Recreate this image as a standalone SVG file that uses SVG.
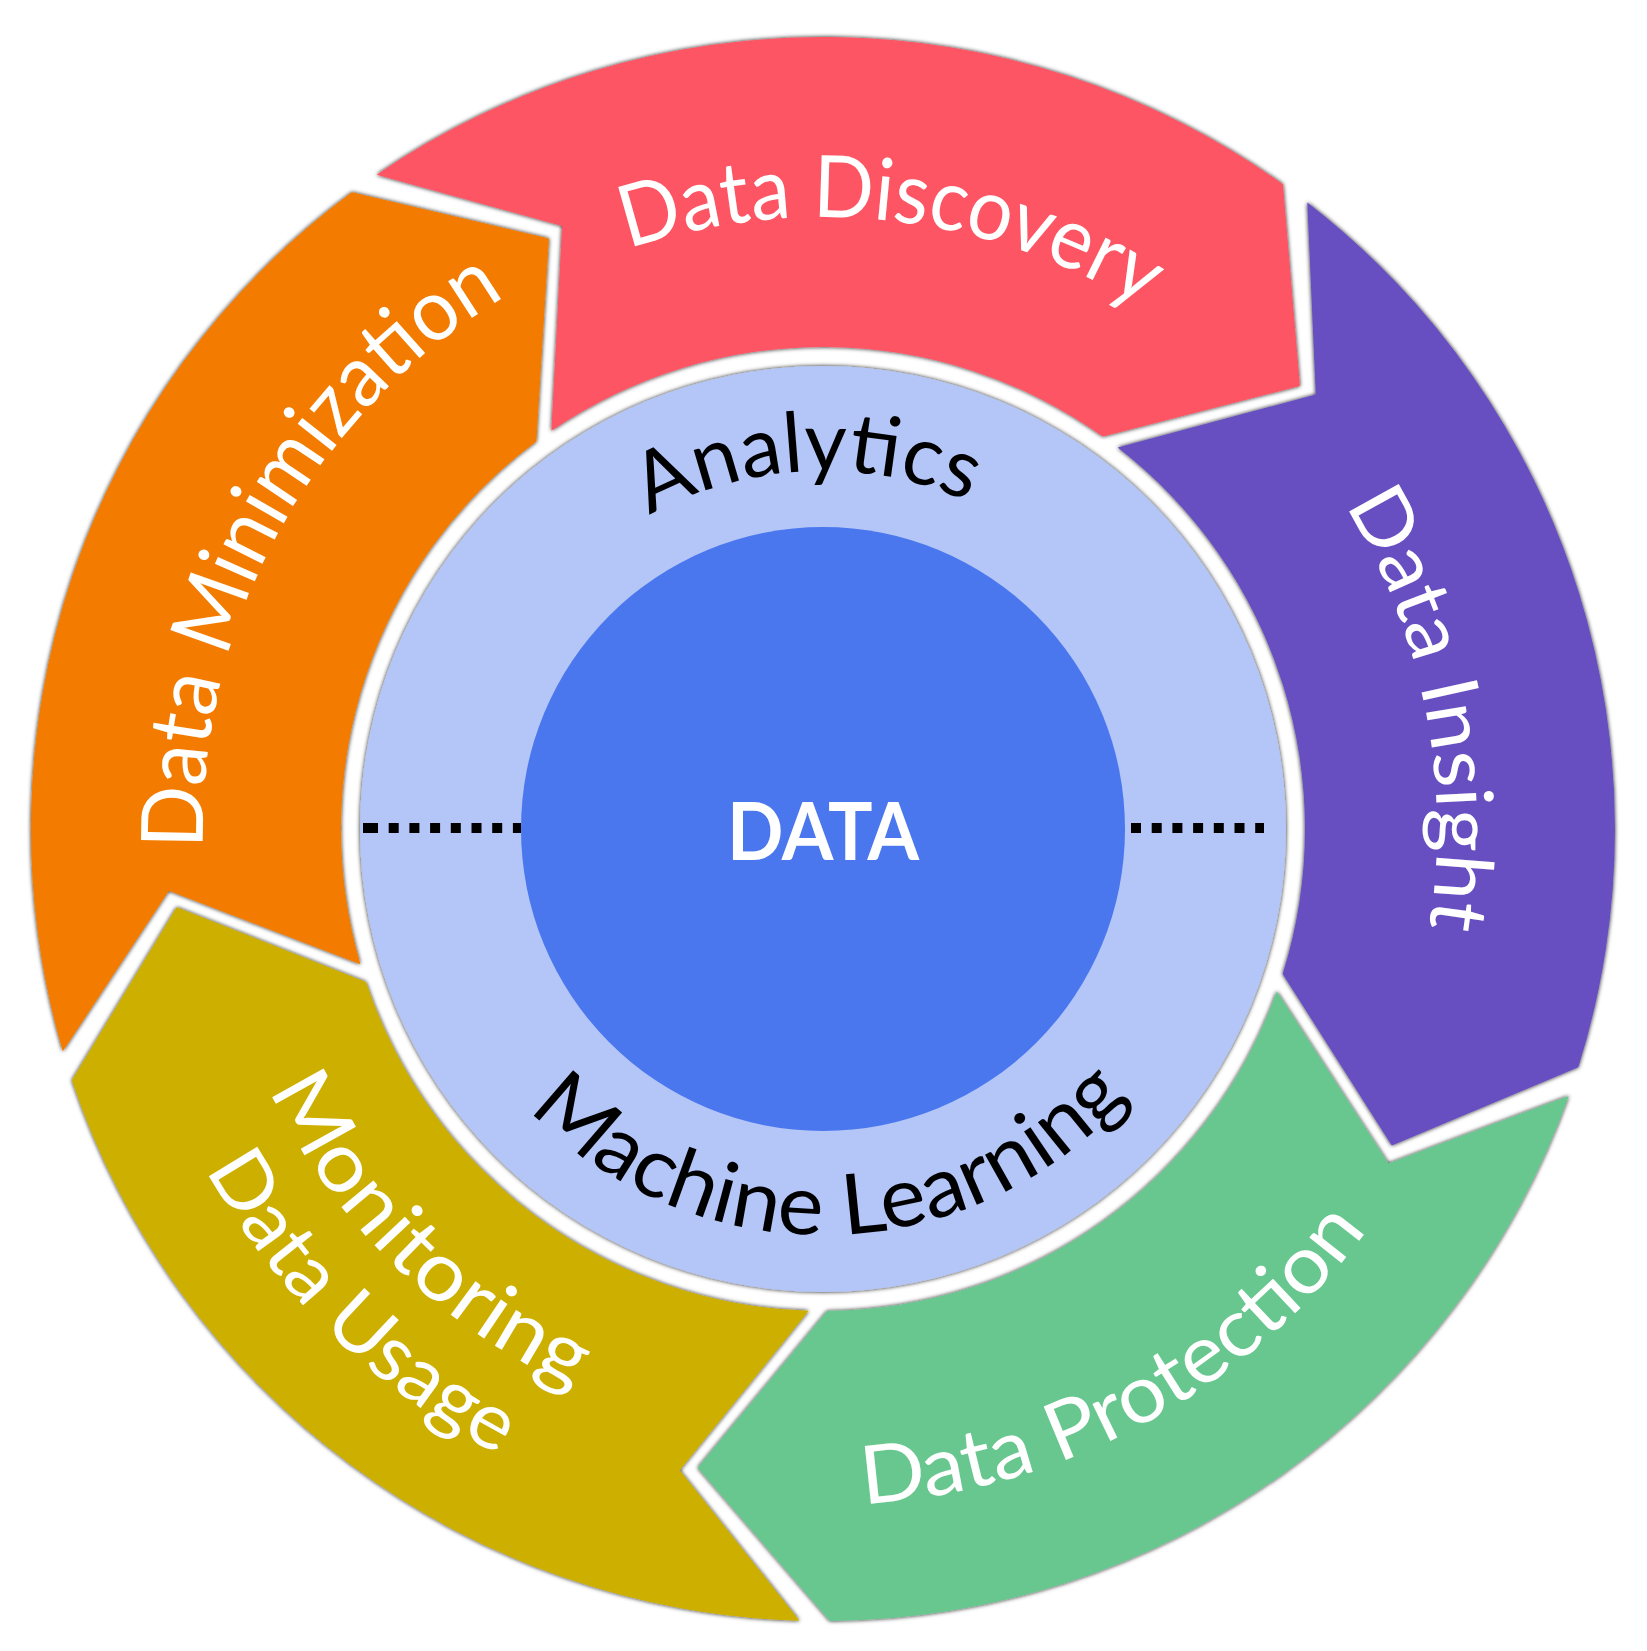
<svg xmlns="http://www.w3.org/2000/svg" width="1647" height="1651" viewBox="0 0 1647 1651">
<style>
.lbl{font-family:Lato,"Open Sans","Liberation Sans",sans-serif;fill:#FFFFFF;text-anchor:middle}
.inner{font-family:Lato,"Open Sans","Liberation Sans",sans-serif;fill:#000000;text-anchor:middle}
.seg{filter:url(#sh)}
</style>
<defs>
<filter id="sh" x="-5%" y="-5%" width="110%" height="110%">
<feDropShadow dx="0" dy="0" stdDeviation="1.9" flood-color="#000" flood-opacity="0.9"/>
</filter>
<path id="p-disc" d="M212.1,866.4 A612,612 0 1 1 1409.8,1002.8" fill="none"/>
<path id="p-ins" d="M600,256.9 A614,614 0 1 1 836.9,1442.8" fill="none"/>
<path id="p-min" d="M624.2,1416.3 A620,620 0 1 1 1210.6,345.1" fill="none"/>
<path id="p-ana" d="M473.5,906.5 A358,358 0 1 1 1177.9,875.7" fill="none"/>
<path id="p-ml" d="M421.7,767.2 A406,406 0 1 0 1221.2,749.8" fill="none"/>
<path id="p-prot" d="M181.9,1043.5 A676,676 0 1 0 1352,408.2" fill="none"/>
<path id="p-mon" d="M466.7,331.4 A612,612 0 1 0 1328,1174.8" fill="none"/>
<path id="p-use" d="M411.1,256.8 A705,705 0 1 0 1405.7,1225.8" fill="none"/>
</defs>
<rect width="1647" height="1651" fill="#FFFFFF"/>

<g id="data-discovery">
<path class="seg" fill="#FD5564" d="M376.7,174.7 A792,792 0 0 1 1282.9,184.2 L1299.9,385.9 L1102.9,436.6 A482,482 0 0 0 551.4,430.8 L562.1,226.0 Z"/>
<text class="lbl" font-size="86"><textPath href="#p-disc" startOffset="50%" textLength="535" lengthAdjust="spacingAndGlyphs">Data Discovery</textPath></text>
</g>
<g id="data-insight">
<path class="seg" fill="#674FC1" d="M1307.3,202.4 A792,792 0 0 1 1578.3,1067.2 L1391.8,1145.6 L1282.7,973.9 A482,482 0 0 0 1117.7,447.6 L1315.8,394.5 Z"/>
<text class="lbl" font-size="79"><textPath href="#p-ins" startOffset="50%" textLength="440" lengthAdjust="spacingAndGlyphs">Data Insight</textPath></text>
</g>
<g id="data-protection">
<path class="seg" fill="#67C78F" d="M1568.7,1096.0 A792,792 0 0 1 829.9,1621.0 L697.7,1467.8 L827.2,1311.0 A482,482 0 0 0 1276.8,991.5 L1388.5,1163.4 Z"/>
<text class="lbl" font-size="81"><textPath href="#p-prot" startOffset="50%" textLength="592" lengthAdjust="spacingAndGlyphs">Data Protection</textPath></text>
</g>
<g id="monitoring-data-usage">
<path class="seg" fill="#CDAF05" d="M799.5,1620.7 A792,792 0 0 1 71.9,1080.3 L176.7,907.2 L365.9,981.9 A482,482 0 0 0 808.7,1310.8 L679.7,1470.2 Z"/>
<text class="lbl" font-size="82"><textPath href="#p-mon" startOffset="50%" textLength="436" lengthAdjust="spacingAndGlyphs">Monitoring</textPath></text>
<text class="lbl" font-size="79"><textPath href="#p-use" startOffset="50%" textLength="415" lengthAdjust="spacingAndGlyphs">Data Usage</textPath></text>
</g>
<g id="data-minimization">
<path class="seg" fill="#F37C00" d="M62.8,1051.3 A792,792 0 0 1 351.9,192.3 L548.9,238.5 L536.3,441.5 A482,482 0 0 0 360.4,964.3 L168.9,890.8 Z"/>
<text class="lbl" font-size="86"><textPath href="#p-min" startOffset="50%" textLength="660" lengthAdjust="spacingAndGlyphs">Data Minimization</textPath></text>
</g>

<g id="hub">
<circle class="seg" cx="823" cy="829" r="463" fill="#B3C6F7"/>
<text class="inner" font-size="83"><textPath href="#p-ana" startOffset="50%" textLength="331" lengthAdjust="spacingAndGlyphs">Analytics</textPath></text>
<text class="inner" font-size="84"><textPath href="#p-ml" startOffset="50%" textLength="675" lengthAdjust="spacingAndGlyphs">Machine Learning</textPath></text>
</g>

<g id="connectors" stroke="#000000" stroke-width="10" fill="none">
<line x1="363" y1="828" x2="521" y2="828" stroke-dasharray="15 10.7 10 10.7 10 10.7 10 10.7 10 10.7 10 10.7 10 10.7 10 10.7"/>
<line x1="1131" y1="828" x2="1264" y2="828" stroke-dasharray="10 10.7"/>
</g>

<g id="data-core">
<circle cx="823" cy="829" r="302" fill="#4B77EE"/>
<text x="727" y="860" font-family="Lato,'Open Sans','Liberation Sans',sans-serif" font-weight="bold" font-size="81" fill="#FFFFFF" textLength="192" lengthAdjust="spacingAndGlyphs">DATA</text>
</g>
</svg>
